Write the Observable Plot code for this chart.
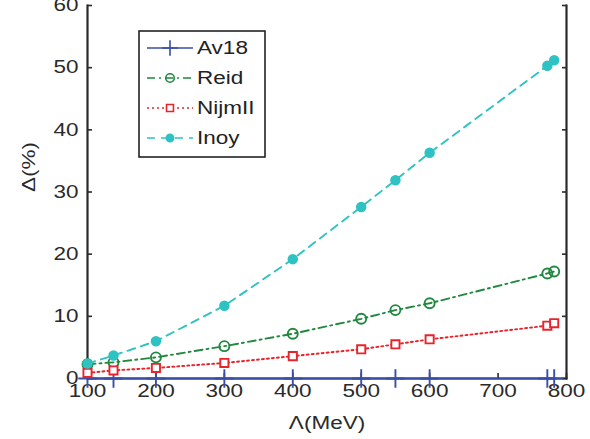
<!DOCTYPE html>
<html>
<head>
<meta charset="utf-8">
<script src="https://cdn.jsdelivr.net/npm/d3@7"></script>
<script src="https://cdn.jsdelivr.net/npm/@observablehq/plot@0.6"></script>
<style>
  body { margin: 0; background: #fff; }
  #chart { width: 590px; height: 439px; }
  #chart svg { font-family: "Liberation Sans", Arial, Helvetica, sans-serif; }
</style>
</head>
<body>
<div id="chart"></div>
<script>
// Cutoff Λ (MeV) and relative deviation Δ (%) for each potential
const lambda = [100, 138, 200, 300, 400, 500, 550, 600, 772, 782];
const av18   = [0, 0, 0, 0, 0, 0, 0, 0, 0, 0];
const reid   = [2.3, 2.6, 3.4, 5.2, 7.2, 9.6, 11.0, 12.1, 16.9, 17.2];
const nijm   = [0.9, 1.3, 1.7, 2.5, 3.6, 4.7, 5.5, 6.3, 8.5, 8.9];
const inoy   = [2.4, 3.7, 6.0, 11.7, 19.2, 27.6, 31.9, 36.3, 50.3, 51.2];

const seriesNames = ["Av18", "Reid", "NijmII", "Inoy"];
const xTicks = [100, 200, 300, 400, 500, 600, 700, 800];
const yTicks = [0, 10, 20, 30, 40, 50, 60];

const styles = {
  Av18:   {color: "#3a4ea6", dash: null,      symbol: "plus",   r: 6,   fill: "none"},
  Reid:   {color: "#21883f", dash: "8,4,2,4", symbol: "circle", r: 5,   fill: "none"},
  NijmII: {color: "#e8232b", dash: "2,3",     symbol: "square", r: 4.6, fill: "white"},
  Inoy:   {color: "#2fc2c2", dash: "8,6",     symbol: "circle", r: 4.3, fill: "#2fc2c2"}
};

const values = {Av18: av18, Reid: reid, NijmII: nijm, Inoy: inoy};
const rows = seriesNames.flatMap(name =>
  lambda.map((l, i) => ({series: name, lambda: l, delta: values[name][i]})));

const seriesMarks = seriesNames.flatMap(name => {
  const s = styles[name];
  const data = rows.filter(d => d.series === name);
  return [
    Plot.line(data, {x: "lambda", y: "delta", stroke: s.color, strokeWidth: 1.9,
      strokeDasharray: s.dash ?? undefined}),
    Plot.dot(data, {x: "lambda", y: "delta", symbol: () => s.symbol, r: s.r,
      stroke: s.color, strokeWidth: 1.9, fill: s.fill})
  ];
});

const axisColor = "#2a2a2a";

const plot = Plot.plot({
  width: 590,
  height: 439,
  marginLeft: 87,
  marginRight: 24,
  marginTop: 5,
  marginBottom: 61,
  x: {domain: [100, 800]},
  y: {domain: [0, 60]},
  style: {fontSize: "18px", color: axisColor},
  marks: [
    Plot.frame({anchor: "left", stroke: axisColor, strokeWidth: 2.2}),
    Plot.frame({anchor: "right", stroke: axisColor, strokeWidth: 2.2}),
    Plot.frame({anchor: "bottom", stroke: axisColor, strokeWidth: 2}),
    // inward tick marks
    Plot.axisY(yTicks, {anchor: "left", tickSize: 5, dx: 5, text: null, label: null, stroke: axisColor, strokeWidth: 1.6}),
    Plot.axisY(yTicks, {anchor: "right", tickSize: 5, dx: -5, text: null, label: null, stroke: axisColor, strokeWidth: 1.6}),
    Plot.axisX(xTicks, {anchor: "bottom", tickSize: 5, dy: -5, text: null, label: null, stroke: axisColor, strokeWidth: 1.6}),
    // tick labels
    Plot.axisY(yTicks, {anchor: "left", tickSize: 0, tickPadding: 9, label: null, fill: axisColor}),
    Plot.axisX(xTicks, {anchor: "bottom", tickSize: 0, tickPadding: 6, label: null, fill: axisColor}),
    Plot.text(["Λ(MeV)"], {frameAnchor: "bottom", dy: 50, fill: axisColor, fontSize: 18}),
    Plot.text(["Δ(%)"], {frameAnchor: "left", dx: -58, rotate: -90, fill: axisColor, fontSize: 18}),
    ...seriesMarks
  ]
});

document.getElementById("chart").append(plot);
const svg = d3.select(plot);

// Legend box
const legend = svg.append("g").attr("class", "legend").attr("text-anchor", "start");
legend.append("rect")
  .attr("x", 139).attr("y", 31).attr("width", 126).attr("height", 126)
  .attr("fill", "white").attr("stroke", "#222").attr("stroke-width", 1.6);

const symbolPath = (name, r) => {
  const sym = name === "plus" ? d3.symbolPlus : name === "square" ? d3.symbolSquare : d3.symbolCircle;
  return d3.symbol(sym, Math.PI * r * r)();
};

seriesNames.forEach((name, i) => {
  const s = styles[name];
  const y = 48 + i * 30;
  const g = legend.append("g");
  g.append("line").attr("x1", 147).attr("x2", 193).attr("y1", y).attr("y2", y)
    .attr("stroke", s.color).attr("stroke-width", 1.6)
    .attr("stroke-dasharray", s.dash);
  g.append("path").attr("d", symbolPath(s.symbol, s.r * 0.85))
    .attr("transform", `translate(170,${y})`)
    .attr("stroke", s.color).attr("stroke-width", 1.6).attr("fill", s.fill);
  g.append("text").attr("x", 197).attr("y", y).attr("dy", "0.36em")
    .attr("font-size", 18).attr("fill", "#222").text(name);
});

// The lettering is set in a wide grotesque; widen the glyphs to suit
svg.selectAll("text").each(function() {
  const len = this.getComputedTextLength();
  if (len > 0) {
    this.setAttribute("textLength", (len * 1.25).toFixed(1));
    this.setAttribute("lengthAdjust", "spacingAndGlyphs");
  }
});
</script>
</body>
</html>
